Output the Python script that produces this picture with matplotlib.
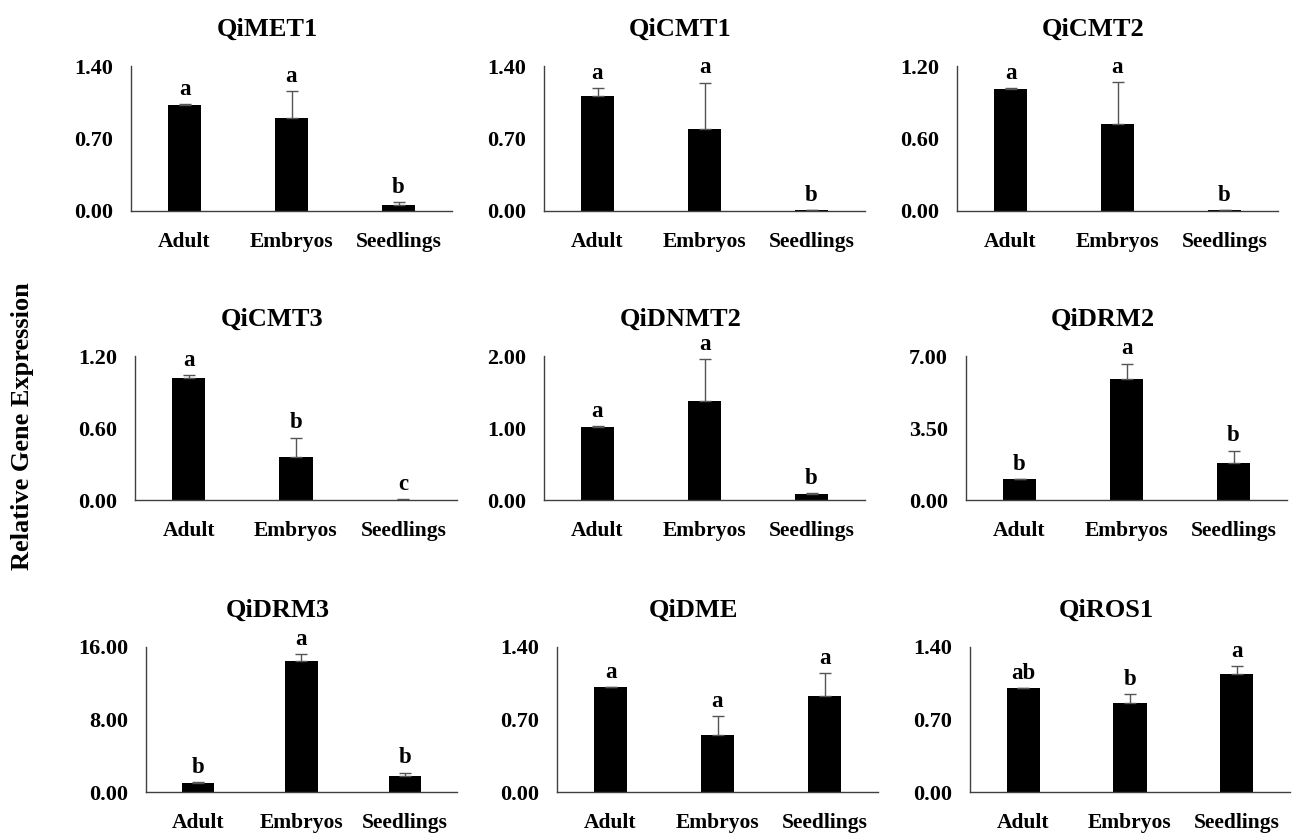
"""Relative expression of DNA methylation genes across tissues."""
import matplotlib
matplotlib.use('Agg')
import matplotlib.pyplot as plt

plt.rcParams['font.family'] = ['Liberation Serif', 'DejaVu Serif']
plt.rcParams['font.weight'] = 'bold'

tissues = ['Adult', 'Embryos', 'Seedlings']
genes = ['QiMET1', 'QiCMT1', 'QiCMT2',
         'QiCMT3', 'QiDNMT2', 'QiDRM2',
         'QiDRM3', 'QiDME', 'QiROS1']

met1 = [1.02, 0.90, 0.06]
cmt1 = [1.11, 0.79, 0.005]
cmt2 = [1.01, 0.72, 0.005]
cmt3 = [1.02, 0.36, 0.003]
dnmt2 = [1.02, 1.37, 0.09]
drm2 = [1.00, 5.87, 1.81]
drm3 = [1.00, 14.49, 1.81]
dme = [1.01, 0.55, 0.93]
ros1 = [1.00, 0.86, 1.14]

met1_err = [0.01, 0.26, 0.03]
cmt1_err = [0.08, 0.45, 0.005]
cmt2_err = [0.01, 0.35, 0.003]
cmt3_err = [0.02, 0.16, 0.002]
dnmt2_err = [0.01, 0.59, 0.01]
drm2_err = [0.02, 0.76, 0.59]
drm3_err = [0.05, 0.74, 0.34]
dme_err = [0.005, 0.18, 0.22]
ros1_err = [0.005, 0.085, 0.074]

letters = [['a', 'a', 'b'], ['a', 'a', 'b'], ['a', 'a', 'b'],
           ['a', 'b', 'c'], ['a', 'a', 'b'], ['b', 'a', 'b'],
           ['b', 'a', 'b'], ['a', 'a', 'a'], ['ab', 'b', 'a']]

y_max = [1.40, 1.40, 1.20, 1.20, 2.00, 7.00, 16.00, 1.40, 1.40]

means = [met1, cmt1, cmt2, cmt3, dnmt2, drm2, drm3, dme, ros1]
errors = [met1_err, cmt1_err, cmt2_err, cmt3_err, dnmt2_err, drm2_err,
          drm3_err, dme_err, ros1_err]

# axes rectangles in pixels: left, top, width, height
W, H = 1292, 838
rects = [(131, 66, 321, 145), (544, 66, 321, 145), (957, 66, 321, 145),
         (135, 356, 322, 144), (544, 356, 321, 144), (966, 356, 321, 144),
         (146, 647, 311, 145), (557, 647, 321, 145), (970, 647, 320, 145)]

fig = plt.figure(figsize=(W / 100, H / 100), dpi=100)

for k, (l, t, w, h) in enumerate(rects):
    ax = fig.add_axes([l / W, 1 - (t + h) / H, w / W, h / H])
    x = range(len(tissues))
    ax.bar(x, means[k], width=0.31, color='black')
    ax.errorbar(x, means[k], yerr=[[0, 0, 0], errors[k]], fmt='none',
                ecolor='#555555', elinewidth=1, capsize=4, capthick=1)
    for i in x:
        ax.annotate(letters[k][i], (i, means[k][i] + errors[k][i]),
                    xytext=(0, 3), textcoords='offset points',
                    ha='center', va='bottom', fontsize=16.5, fontweight='bold')
    ax.set_xlim(-0.5, 2.5)
    ax.set_ylim(0, y_max[k])
    ax.set_yticks([0, y_max[k] / 2, y_max[k]])
    ax.set_yticklabels(['%.2f' % v for v in ax.get_yticks()])
    ax.set_xticks(list(x))
    ax.set_xticklabels(tissues)
    ax.tick_params(length=0, labelsize=16)
    ax.tick_params(axis='x', labelsize=15.5, pad=15)
    ax.tick_params(axis='y', pad=13)
    for s in ['top', 'right']:
        ax.spines[s].set_visible(False)
    for s in ['left', 'bottom']:
        ax.spines[s].set_color('#404040')
        ax.spines[s].set_linewidth(1)
    fig.text((l + w / 2 - 24) / W, 1 - (t - 37) / H, genes[k],
             ha='center', va='center', fontsize=19, fontweight='bold')

fig.text(23 / W, 1 - 426 / H, 'Relative Gene Expression', rotation=90,
         ha='center', va='center', fontsize=19, fontweight='bold')

fig.savefig('out.png', dpi=100)
